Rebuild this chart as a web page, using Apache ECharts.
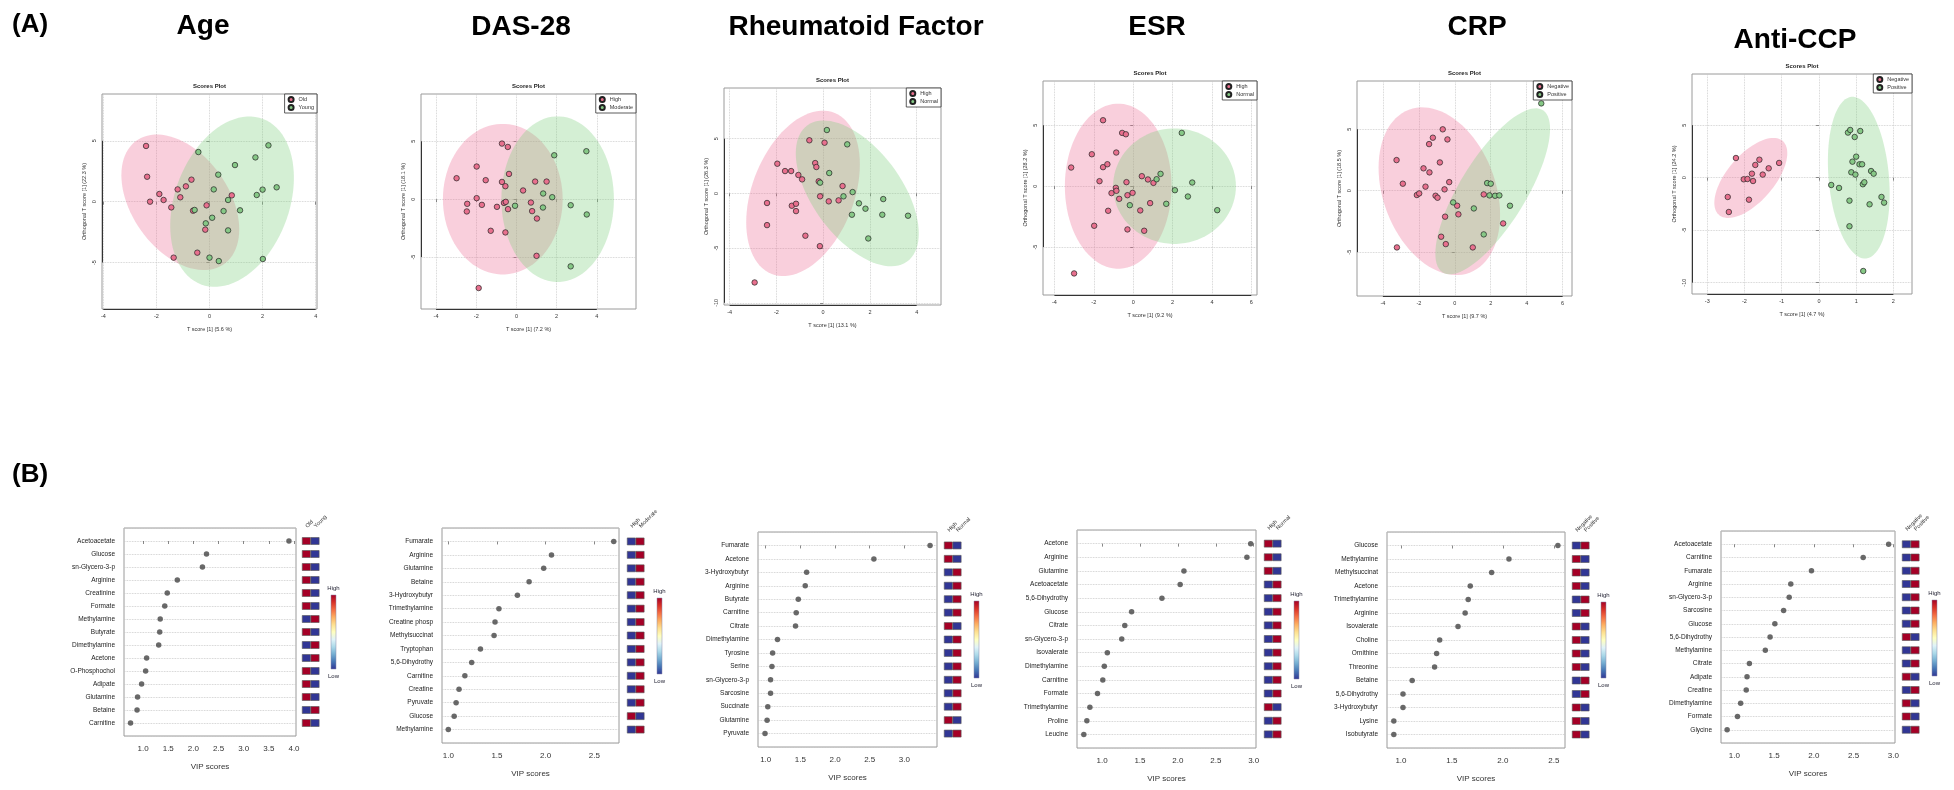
<!DOCTYPE html>
<html><head><meta charset="utf-8">
<script src="https://cdn.jsdelivr.net/npm/echarts@6/dist/echarts.min.js"></script>
<style>html,body{margin:0;padding:0;background:#fff}#c{width:1954px;height:790px}</style>
</head><body><div id="c"></div>
<script>
// ================= DATA =================
// ---- (A) OPLS-DA score plots: [T score, orthogonal T score] ----
const ageGroups = ['Old', 'Young'];
const ageOld = [[-2.39,4.58],[-2.35,2.05],[-2.24,0.00],[-1.89,0.63],[-1.73,0.14],[-1.44,-0.47],[-1.35,-4.60],[-1.20,1.01],[-1.10,0.36],[-0.89,1.26],[-0.68,1.81],[-0.62,-0.74],[-0.46,-4.19],[-0.16,-2.30],[-0.11,-0.30],[0.84,0.52]];
const ageYoung = [[-0.42,4.08],[-0.56,-0.68],[-0.14,-1.78],[0.00,-4.60],[0.10,-1.32],[0.16,1.01],[0.33,2.22],[0.35,-4.88],[0.53,-0.77],[0.70,0.14],[0.70,-2.36],[0.96,3.01],[1.15,-0.71],[1.73,3.64],[1.78,0.55],[2.00,0.99],[2.01,-4.71],[2.22,4.63],[2.53,1.18]];
// confidence ellipses: [centre x, centre y, half-width x, half-height y, correlation]
const ageEllipse = [[-1.1,-0.05,2.22,5.57,-0.40],[0.85,0,2.33,7.0,0.28]];
const ageXTicks = [-4,-2,0,2,4], ageYTicks = [-5,0,5];

const dasGroups = ['High', 'Moderate'];
const dasHigh = [[-2.98,1.81],[-2.45,-0.40],[-2.47,-1.06],[-1.98,2.82],[-1.98,0.09],[-1.72,-0.49],[-1.53,1.64],[-1.28,-2.73],[-0.97,-0.66],[-0.72,4.80],[-0.72,1.49],[-0.62,-0.32],[-0.55,1.12],[-0.53,-0.23],[-0.55,-2.87],[-0.43,4.51],[-0.42,-0.86],[-0.37,2.18],[0.33,0.75],[0.72,-0.29],[0.78,-1.03],[0.93,1.52],[1.02,-1.67],[1.00,-4.89],[1.50,1.52],[-1.88,-7.67]];
const dasModerate = [[-0.07,-0.57],[1.33,0.49],[1.32,-0.72],[1.78,0.17],[1.88,3.79],[2.70,-0.52],[3.48,4.14],[3.50,-1.32],[2.70,-5.80]];
const dasEllipse = [[-0.68,0,2.98,6.5,0],[2.05,0,2.8,7.15,0]];
const dasXTicks = [-4,-2,0,2,4], dasYTicks = [-5,0,5];

const rfGroups = ['High', 'Normal'];
const rfHigh = [[-2.93,-8.14],[-2.40,-0.88],[-2.40,-2.90],[-1.96,2.71],[-1.63,2.04],[-1.37,2.04],[-1.34,-1.13],[-1.16,-0.95],[-1.16,-1.62],[-1.06,1.68],[-0.90,1.28],[-0.76,-3.87],[-0.59,4.85],[-0.34,2.77],[-0.29,2.41],[-0.19,1.10],[-0.14,-4.82],[-0.13,-0.27],[0.06,4.63],[0.24,-0.73],[0.66,-0.64],[0.83,0.67]];
const rfNormal = [[-0.13,0.98],[0.16,5.79],[0.26,1.86],[0.87,-0.27],[1.03,4.48],[1.26,0.12],[1.23,-1.95],[1.53,-0.91],[1.81,-1.40],[1.93,-4.12],[2.53,-1.95],[2.57,-0.52],[3.63,-2.04]];
const rfEllipse = [[-0.86,0,2.43,7.56,0.35],[1.46,0,2.63,6.66,-0.55]];
const rfXTicks = [-4,-2,0,2,4], rfYTicks = [-10,-5,0,5];

const esrGroups = ['High', 'Normal'];
const esrHigh = [[-3.15,1.53],[-3.0,-7.16],[-2.10,2.62],[-1.98,-3.25],[-1.71,0.41],[-1.53,5.41],[-1.53,1.56],[-1.31,1.80],[-1.27,-2.02],[-1.10,-0.57],[-0.88,-0.14],[-0.86,2.76],[-0.85,-0.38],[-0.71,-1.04],[-0.56,4.37],[-0.37,4.26],[-0.34,0.33],[-0.29,-0.74],[-0.29,-3.55],[-0.03,-0.55],[0.36,-1.99],[0.44,0.82],[0.56,-3.66],[0.75,0.55],[0.86,-1.39],[1.03,0.27]];
const esrNormal = [[-0.17,-1.56],[1.19,0.57],[1.39,1.01],[1.68,-1.45],[2.12,-0.33],[2.47,4.37],[2.78,-0.85],[3.0,0.30],[4.27,-1.97]];
const esrEllipse = [[-0.76,0,2.71,6.77,0],[2.1,0,3.12,4.74,0]];
const esrXTicks = [-4,-2,0,2,4,6], esrYTicks = [-5,0,5];

const crpGroups = ['Negative', 'Positive'];
const crpNegative = [[-3.24,2.49],[-3.22,-4.61],[-2.89,0.57],[-2.11,-0.35],[-1.98,-0.22],[-1.74,1.82],[-1.63,0.33],[-1.43,3.79],[-1.41,1.49],[-1.22,4.31],[-1.07,-0.41],[-0.96,-0.57],[-0.83,2.30],[-0.76,-3.74],[-0.67,4.99],[-0.57,0.11],[-0.54,-2.11],[-0.50,-4.34],[-0.41,4.17],[-0.31,0.70],[0.13,-1.22],[0.20,-1.92],[1.00,-4.61],[1.61,-0.30],[2.69,-2.66]];
const crpPositive = [[-0.09,-0.95],[1.06,-1.44],[1.80,0.62],[2.00,0.57],[1.93,-0.38],[2.24,-0.41],[2.48,-0.38],[1.61,-3.55],[3.07,-1.22],[4.81,7.10]];
const crpEllipse = [[-0.86,-0.04,3.38,6.82,-0.28],[2.11,-0.05,3.19,6.75,0.75]];
const crpXTicks = [-4,-2,0,2,4,6], crpYTicks = [-5,0,5];

const ccpGroups = ['Negative', 'Positive'];
const ccpNegative = [[-2.45,-1.84],[-2.42,-3.27],[-2.23,1.87],[-2.02,-0.16],[-1.92,-0.13],[-1.88,-2.10],[-1.80,0.38],[-1.77,-0.32],[-1.71,1.21],[-1.60,1.71],[-1.51,0.29],[-1.35,0.89],[-1.07,1.40]];
const ccpPositive = [[0.33,-0.70],[0.54,-0.98],[0.78,4.29],[0.84,4.54],[0.82,-2.19],[0.82,-4.63],[0.87,0.51],[0.90,1.52],[0.98,0.29],[0.96,3.87],[1.00,2.00],[1.11,4.44],[1.09,1.27],[1.16,1.27],[1.18,-0.63],[1.22,-0.44],[1.19,-8.89],[1.36,-2.54],[1.40,0.63],[1.47,0.38],[1.68,-1.84],[1.75,-2.38]];
const ccpEllipse = [[-1.83,-0.03,0.98,3.81,0.62],[1.07,0,0.83,7.7,-0.2]];
const ccpXTicks = [-3,-2,-1,0,1,2], ccpYTicks = [-10,-5,0,5];

// ---- (B) VIP scores; heat: 1 = first group high (red), 0 = second group high ----
const vipTicks = [1.0,1.5,2.0,2.5,3.0,3.5,4.0];
const ageNames = ['Acetoacetate','Glucose','sn-Glycero-3-p','Arginine','Creatinine','Formate','Methylamine','Butyrate','Dimethylamine','Acetone','O-Phosphochol','Adipate','Glutamine','Betaine','Carnitine'];
const ageVip = [3.90,2.26,2.18,1.68,1.48,1.43,1.34,1.33,1.31,1.07,1.05,0.97,0.89,0.88,0.75];
const ageHeat = [1,1,1,1,1,1,0,1,0,0,1,1,1,0,1];

const dasNames = ['Fumarate','Arginine','Glutamine','Betaine','3-Hydroxybutyr','Trimethylamine','Creatine phosp','Methylsuccinat','Tryptophan','5,6-Dihydrothy','Carnitine','Creatine','Pyruvate','Glucose','Methylamine'];
const dasVip = [2.70,2.06,1.98,1.83,1.71,1.52,1.48,1.47,1.33,1.24,1.17,1.11,1.08,1.06,1.00];
const dasHeat = [0,0,0,0,0,0,0,0,0,0,0,0,0,1,0];

const rfNames = ['Fumarate','Acetone','3-Hydroxybutyr','Arginine','Butyrate','Carnitine','Citrate','Dimethylamine','Tyrosine','Serine','sn-Glycero-3-p','Sarcosine','Succinate','Glutamine','Pyruvate'];
const rfVip = [3.37,2.56,1.59,1.57,1.47,1.44,1.43,1.17,1.10,1.09,1.07,1.07,1.03,1.02,0.99];
const rfHeat = [1,1,0,0,0,0,1,0,0,0,0,0,0,1,0];

const esrNames = ['Acetone','Arginine','Glutamine','Acetoacetate','5,6-Dihydrothy','Glucose','Citrate','sn-Glycero-3-p','Isovalerate','Dimethylamine','Carnitine','Formate','Trimethylamine','Proline','Leucine'];
const esrVip = [2.96,2.91,2.08,2.03,1.79,1.39,1.30,1.26,1.07,1.03,1.01,0.94,0.84,0.80,0.76];
const esrHeat = [1,1,1,0,0,0,0,0,0,0,0,0,1,0,0];

const crpNames = ['Glucose','Methylamine','Methylsuccinat','Acetone','Trimethylamine','Arginine','Isovalerate','Choline','Ornithine','Threonine','Betaine','5,6-Dihydrothy','3-Hydroxybutyr','Lysine','Isobutyrate'];
const crpVip = [2.54,2.06,1.89,1.68,1.66,1.63,1.56,1.38,1.35,1.33,1.11,1.02,1.02,0.93,0.93];
const crpHeat = [0,1,1,1,0,0,1,1,1,1,0,0,1,1,1];

const ccpNames = ['Acetoacetate','Carnitine','Fumarate','Arginine','sn-Glycero-3-p','Sarcosine','Glucose','5,6-Dihydrothy','Methylamine','Citrate','Adipate','Creatine','Dimethylamine','Formate','Glycine'];
const ccpVip = [2.94,2.62,1.97,1.71,1.69,1.62,1.51,1.45,1.39,1.19,1.16,1.15,1.08,1.04,0.91];
const ccpHeat = [0,0,0,0,0,0,0,1,0,0,1,0,1,1,0];

// ================= LAYOUT / STYLE =================
const FONT = '"Liberation Sans", Arial, Helvetica, sans-serif';
const PT_COLORS = ['#E8708E', '#86C886'];
const ELL_COLORS = ['rgba(236,110,150,0.33)', 'rgba(125,205,125,0.33)'];
const RED = '#A50026', BLUE = '#313695';

const scatterPanels = [
  {title:'Age', tx:203, ty:26, groups:ageGroups, pts:[ageOld, ageYoung], ell:ageEllipse, xr:[-4.05,4.05], yr:[-8.82,8.85], xt:ageXTicks, yt:ageYTicks, xlab:'T score [1] (5.6 %)', ylab:'Orthogonal T score [1] (22.3 %)', box:[102,94,215,215]},
  {title:'DAS-28', tx:521, ty:27, groups:dasGroups, pts:[dasHigh, dasModerate], ell:dasEllipse, xr:[-4.75,5.95], yr:[-9.48,9.08], xt:dasXTicks, yt:dasYTicks, xlab:'T score [1] (7.2 %)', ylab:'Orthogonal T score [1] (18.1 %)', box:[421,94,215,215]},
  {title:'Rheumatoid Factor', tx:856, ty:27, groups:rfGroups, pts:[rfHigh, rfNormal], ell:rfEllipse, xr:[-4.24,5.04], yr:[-10.2,9.63], xt:rfXTicks, yt:rfYTicks, xlab:'T score [1] (13.1 %)', ylab:'Orthogonal T score [1] (26.3 %)', box:[724,88,217,217]},
  {title:'ESR', tx:1157, ty:27, groups:esrGroups, pts:[esrHigh, esrNormal], ell:esrEllipse, xr:[-4.58,6.29], yr:[-8.93,8.63], xt:esrXTicks, yt:esrYTicks, xlab:'T score [1] (9.2 %)', ylab:'Orthogonal T score [1] (28.2 %)', box:[1043,81,214,214]},
  {title:'CRP', tx:1477, ty:27, groups:crpGroups, pts:[crpNegative, crpPositive], ell:crpEllipse, xr:[-5.44,6.52], yr:[-8.56,8.92], xt:crpXTicks, yt:crpYTicks, xlab:'T score [1] (9.7 %)', ylab:'Orthogonal T score [1] (18.5 %)', box:[1357,81,215,215]},
  {title:'Anti-CCP', tx:1795, ty:40, groups:ccpGroups, pts:[ccpNegative, ccpPositive], ell:ccpEllipse, xr:[-3.41,2.50], yr:[-11.08,9.87], xt:ccpXTicks, yt:ccpYTicks, xlab:'T score [1] (4.7 %)', ylab:'Orthogonal T score [1] (24.2 %)', box:[1692,74,220,220]}
];

const vipPanels = [
  {names:ageNames, vip:ageVip, heat:ageHeat, groups:ageGroups, xr:[0.62,4.04], box:[124,528,172,208], hx:302, bar:[331,595,5,74]},
  {names:dasNames, vip:dasVip, heat:dasHeat, groups:dasGroups, xr:[0.935,2.754], box:[442,528,177,215], hx:627, bar:[657,598,5,76]},
  {names:rfNames, vip:rfVip, heat:rfHeat, groups:rfGroups, xr:[0.889,3.47], box:[758,532,179,215], hx:944, bar:[974,601,5,77]},
  {names:esrNames, vip:esrVip, heat:esrHeat, groups:esrGroups, xr:[0.67,3.03], box:[1077,530,179,218], hx:1264, bar:[1294,601,5,78]},
  {names:crpNames, vip:crpVip, heat:crpHeat, groups:crpGroups, xr:[0.863,2.61], box:[1387,532,178,216], hx:1572, bar:[1601,602,5,76]},
  {names:ccpNames, vip:ccpVip, heat:ccpHeat, groups:ccpGroups, xr:[0.833,3.02], box:[1721,531,174,212], hx:1902, bar:[1932,600,5,76]}
];

// ================= BUILD =================
const option = {
  animation: false,
  backgroundColor: '#fff',
  textStyle: { fontFamily: FONT },
  grid: [], xAxis: [], yAxis: [], series: [], legend: [], graphic: []
};

function txt(x, y, text, size, opts) {
  opts = opts || {};
  return { type: 'text', x: x, y: y, silent: true, rotation: opts.rotation || 0, z: 50,
    style: { text: text, fontSize: size, fontWeight: opts.bold ? 'bold' : 'normal', fontFamily: FONT,
      fill: opts.color || '#000', align: opts.align || 'center', verticalAlign: 'middle',
      textAlign: opts.align || 'center', textVerticalAlign: 'middle' } };
}

function ellipseRenderer(color) {
  return function (params, api) {
    const cx = api.value(0), cy = api.value(1), rx = api.value(2), ry = api.value(3), rho = api.value(4);
    const s = Math.sqrt(1 - rho * rho);
    const pts = [];
    for (let i = 0; i <= 90; i++) {
      const t = i / 90 * 2 * Math.PI;
      pts.push(api.coord([cx + rx * Math.cos(t), cy + ry * (rho * Math.cos(t) + s * Math.sin(t))]));
    }
    return { type: 'polygon', shape: { points: pts }, style: { fill: color, stroke: null } };
  };
}

option.graphic.push(txt(12, 25, '(A)', 26, { bold: true, align: 'left' }));
option.graphic.push(txt(12, 475, '(B)', 26, { bold: true, align: 'left' }));

scatterPanels.forEach(function (p) {
  const gi = option.grid.length;
  const [L, T, W, H] = p.box;
  option.grid.push({ left: L, top: T, width: W, height: H, show: true, borderColor: '#9a9a9a', borderWidth: 1, backgroundColor: '#fff' });
  option.xAxis.push({ gridIndex: gi, type: 'value', min: p.xr[0], max: p.xr[1],
    axisLine: { show: false },
    axisTick: { show: true, customValues: p.xt, length: 3, lineStyle: { color: '#444', width: 0.6 } },
    axisLabel: { customValues: p.xt, fontSize: 5.5, color: '#333', margin: 4 },
    splitLine: { show: true, lineStyle: { type: 'dotted', color: '#c8c8c8', width: 0.8 } },
    name: p.xlab, nameLocation: 'middle', nameGap: 17, nameTextStyle: { fontSize: 5.5, color: '#333' } });
  option.yAxis.push({ gridIndex: gi, type: 'value', min: p.yr[0], max: p.yr[1],
    axisLine: { show: false },
    axisTick: { show: true, customValues: p.yt, length: 3, lineStyle: { color: '#444', width: 0.6 } },
    axisLabel: { customValues: p.yt, fontSize: 5.5, color: '#333', margin: 5, rotate: 90 },
    splitLine: { show: true, lineStyle: { type: 'dotted', color: '#c8c8c8', width: 0.8 } },
    name: p.ylab, nameLocation: 'middle', nameRotate: 90, nameGap: 15, nameTextStyle: { fontSize: 5.5, color: '#333' } });
  p.ell.forEach(function (e, j) {
    option.series.push({ type: 'custom', xAxisIndex: gi, yAxisIndex: gi, silent: true, clip: true, z: 1,
      data: [e], renderItem: ellipseRenderer(ELL_COLORS[j]) });
  });
  p.pts.forEach(function (d, j) {
    const s = { type: 'scatter', name: p.groups[j], xAxisIndex: gi, yAxisIndex: gi, data: d, z: 3,
      symbolSize: 5.5, itemStyle: { color: PT_COLORS[j], borderColor: '#222', borderWidth: 0.7, opacity: 1 } };
    if (j === 0) {
      // R-style axis lines spanning the first to last tick, along the plot edges
      s.markLine = { silent: true, symbol: 'none', animation: false, label: { show: false },
        lineStyle: { color: '#333', width: 1, type: 'solid' },
        data: [
          [{ coord: [p.xt[0], p.yr[0]] }, { coord: [p.xt[p.xt.length - 1], p.yr[0]] }],
          [{ coord: [p.xr[0], p.yt[0]] }, { coord: [p.xr[0], p.yt[p.yt.length - 1]] }]
        ] };
    }
    option.series.push(s);
  });
  option.legend.push({ data: p.groups, orient: 'vertical', right: 1954 - (L + W), top: T,
    itemWidth: 5, itemHeight: 5, itemGap: 1, padding: [2, 3, 2, 3], icon: 'circle', selectedMode: false,
    borderColor: '#333', borderWidth: 0.8, backgroundColor: '#fff',
    textStyle: { fontSize: 5.5, color: '#333', fontFamily: FONT } });
  option.graphic.push(txt(L + W / 2, T - 8, 'Scores Plot', 6, { bold: true, color: '#222' }));
  option.graphic.push(txt(p.tx, p.ty, p.title, 28, { bold: true }));
});

const RDYLBU = ['#A50026','#D73027','#F46D43','#FDAE61','#FEE090','#FFFFBF','#E0F3F8','#ABD9E9','#74ADD1','#4575B4','#313695'];

vipPanels.forEach(function (p) {
  const [L, T, W, H] = p.box;
  const gi = option.grid.length;
  option.grid.push({ left: L, top: T, width: W, height: H, show: true, borderColor: '#9a9a9a', borderWidth: 1, backgroundColor: '#fff' });
  option.xAxis.push({ gridIndex: gi, type: 'value', min: p.xr[0], max: p.xr[1],
    axisLine: { show: false },
    axisTick: { show: true, customValues: vipTicks, length: 3, lineStyle: { color: '#555', width: 0.7 } },
    axisLabel: { customValues: vipTicks, formatter: function (v) { return v.toFixed(1); }, fontSize: 8, color: '#333', margin: 9 },
    splitLine: { show: false },
    name: 'VIP scores', nameLocation: 'middle', nameGap: 27, nameTextStyle: { fontSize: 8, color: '#333' } });
  const names = p.names;
  option.yAxis.push({ gridIndex: gi, type: 'value', inverse: true, min: -1, max: 15, interval: 1,
    axisLine: { show: false }, axisTick: { show: false },
    axisLabel: { formatter: function (v) { return names[v] !== undefined ? names[v] : ''; }, fontSize: 6.5, color: '#222', margin: 9 },
    splitLine: { show: true, lineStyle: { type: 'dotted', color: '#c4c4c4', width: 0.8 } } });
  option.series.push({ type: 'scatter', xAxisIndex: gi, yAxisIndex: gi, silent: true, z: 3,
    data: p.vip.map(function (v, i) { return [v, i]; }), symbolSize: 5.5, itemStyle: { color: '#444' } });

  // heat cells
  const hi = option.grid.length;
  const groups = p.groups;
  option.grid.push({ left: p.hx, top: T, width: 17.4, height: H, show: false });
  option.xAxis.push({ gridIndex: hi, type: 'value', min: -0.5, max: 1.5, position: 'top',
    axisLine: { show: false }, axisTick: { show: false }, splitLine: { show: false },
    axisLabel: { customValues: [0, 1], formatter: function (v) { return groups[v]; }, rotate: 45, fontSize: 5.5, color: '#333', margin: 1 } });
  option.yAxis.push({ gridIndex: hi, type: 'value', inverse: true, min: -1, max: 15, show: false });
  const cells = [];
  p.heat.forEach(function (f, i) { cells.push([0, i, f]); cells.push([1, i, 1 - f]); });
  option.series.push({ type: 'custom', xAxisIndex: hi, yAxisIndex: hi, silent: true, data: cells,
    renderItem: function (params, api) {
      const c = api.coord([api.value(0), api.value(1)]);
      const w = api.size([1, 0])[0] * 0.94, h = 7;
      return { type: 'rect', shape: { x: c[0] - w / 2, y: c[1] - h / 2, width: w, height: h },
        style: { fill: api.value(2) ? RED : BLUE, stroke: '#555', lineWidth: 0.6 } };
    } });

  // colour key
  const [bx, by, bw, bh] = p.bar;
  option.graphic.push({ type: 'rect', silent: true, z: 50, shape: { x: bx, y: by, width: bw, height: bh },
    style: { fill: { type: 'linear', x: 0, y: 0, x2: 0, y2: 1,
      colorStops: RDYLBU.map(function (c, i) { return { offset: i / (RDYLBU.length - 1), color: c }; }) },
      stroke: '#8a8aa8', lineWidth: 0.5 } });
  option.graphic.push(txt(bx + bw / 2, by - 7, 'High', 6, { color: '#223' }));
  option.graphic.push(txt(bx + bw / 2, by + bh + 7, 'Low', 6, { color: '#223' }));
});

const chart = echarts.init(document.getElementById('c'), null, { renderer: 'canvas' });
chart.setOption(option);
</script></body></html>
